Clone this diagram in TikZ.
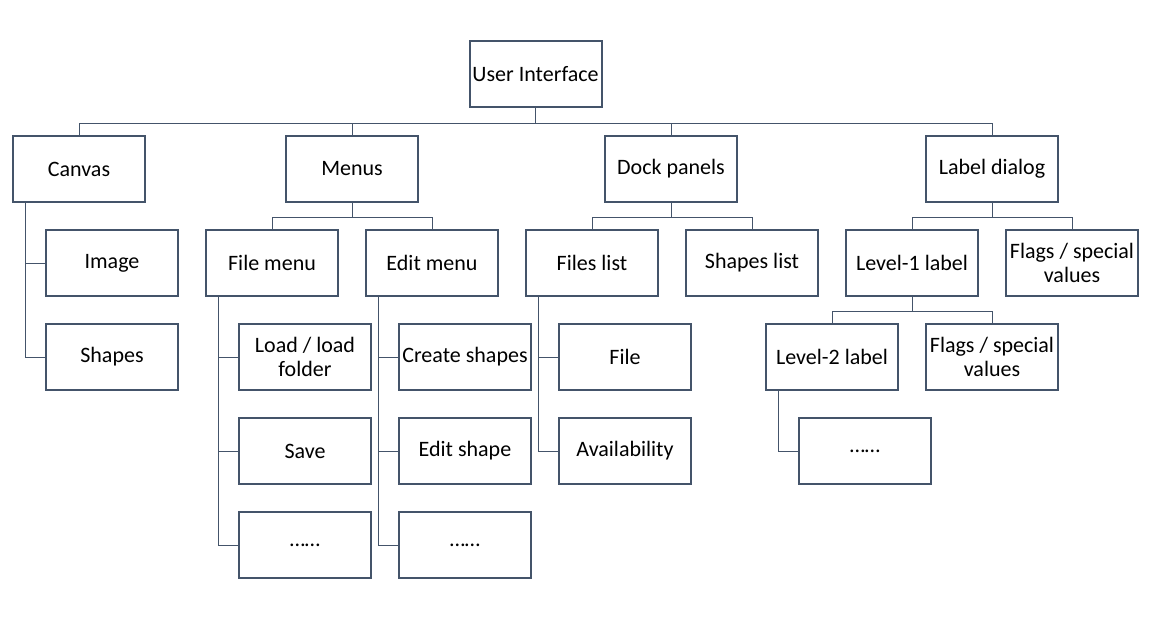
\documentclass[tikz,border=0pt]{standalone}
\usepackage{fontspec}
\setmainfont{Carlito}
\begin{document}
\begin{tikzpicture}[x=1pt,y=-1pt,
  box/.style={draw=lineC,line width=2pt,fill=white,rectangle,minimum width=132pt,minimum height=66pt,inner sep=0pt,align=center,font=\fontsize{22}{24}\selectfont,text=black},
  conn/.style={draw=lineC,line width=1pt}]
\definecolor{lineC}{HTML}{44546A}
\useasboundingbox (0,0) rectangle (1152,624);
% nodes
\node[box] (ui) at (535.5,74) {User Interface};
\node[box] (canvas) at (79,169) {Canvas};
\node[box] (menus) at (352,169) {Menus};
\node[box] (dock) at (671,169) {Dock panels};
\node[box] (label) at (992,169) {Label dialog};
\node[box] (image) at (112,263) {Image};
\node[box] (shapes) at (112,357) {Shapes};
\node[box] (filemenu) at (272,263) {File menu};
\node[box] (editmenu) at (432,263) {Edit menu};
\node[box] (load) at (305,357) {Load / load\\folder};
\node[box] (save) at (305,451) {Save};
\node[box] (dotsA) at (305,545) {……};
\node[box] (create) at (465,357) {Create shapes};
\node[box] (editshape) at (465,451) {Edit shape};
\node[box] (dotsB) at (465,545) {……};
\node[box] (fileslist) at (592,263) {Files list};
\node[box] (shapeslist) at (752,263) {Shapes list};
\node[box] (file) at (625,357) {File};
\node[box] (avail) at (625,451) {Availability};
\node[box] (lvlone) at (912,263) {Level-1 label};
\node[box] (flagsA) at (1072,263) {Flags / special\\values};
\node[box] (lvltwo) at (832,357) {Level-2 label};
\node[box] (flagsB) at (992,357) {Flags / special\\values};
\node[box] (dotsC) at (865,451) {……};
% tree connectors
\begin{scope}[on background layer/.style={}]
\foreach \c in {canvas,menus,dock,label}
  \draw[conn] (ui.south) -- ++(0,15) -| (\c.north);
\foreach \c in {filemenu,editmenu}
  \draw[conn] (menus.south) -- ++(0,14.5) -| (\c.north);
\foreach \c in {fileslist,shapeslist}
  \draw[conn] (dock.south) -- ++(0,14.5) -| (\c.north);
\foreach \c in {lvlone,flagsA}
  \draw[conn] (label.south) -- ++(0,14.5) -| (\c.north);
\foreach \c in {lvltwo,flagsB}
  \draw[conn] (lvlone.south) -- ++(0,14.5) -| (\c.north);
% side connectors
\foreach \c in {image,shapes}
  \draw[conn] ([xshift=13.5pt]canvas.south west) |- (\c.west);
\foreach \c in {load,save,dotsA}
  \draw[conn] ([xshift=13.5pt]filemenu.south west) |- (\c.west);
\foreach \c in {create,editshape,dotsB}
  \draw[conn] ([xshift=13.5pt]editmenu.south west) |- (\c.west);
\foreach \c in {file,avail}
  \draw[conn] ([xshift=13.5pt]fileslist.south west) |- (\c.west);
\draw[conn] ([xshift=13.5pt]lvltwo.south west) |- (dotsC.west);
\end{scope}
\end{tikzpicture}
\end{document}
